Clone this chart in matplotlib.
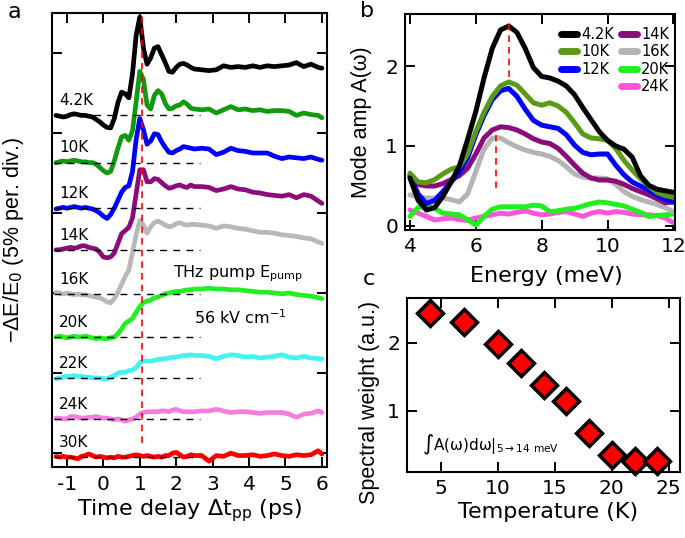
import numpy as np
import matplotlib
matplotlib.use('Agg')
import matplotlib.pyplot as plt
from matplotlib.lines import Line2D

plt.rcParams['font.family'] = ['DejaVu Sans']
plt.rcParams['mathtext.fontset'] = 'dejavusans'

# ---------------- Panel a data ----------------
t_delay = [-1.3, -1.2, -1.1, -1.0, -0.9, -0.8, -0.7, -0.6, -0.5, -0.4,
           -0.3, -0.2, -0.1, 0.0, 0.1, 0.2, 0.3, 0.4, 0.5, 0.6,
           0.7, 0.8, 0.9, 1.0, 1.1, 1.2, 1.3, 1.4, 1.5, 1.6,
           1.7, 1.8, 1.9, 2.0, 2.1, 2.2, 2.3, 2.4, 2.5,
           2.7, 2.9, 3.1, 3.3, 3.5, 3.7, 3.9, 4.1, 4.3, 4.5,
           4.7, 4.9, 5.1, 5.3, 5.5, 5.7, 5.9, 6.0]

sig_4K2 = [0.0, -0.05, -0.1, -0.05, 0.05, 0.1, 0.05, 0.0, 0.0, -0.05,
           -0.1, -0.25, -0.4, -0.6, -0.75, -0.78, -0.2, 0.8, 1.45, 1.35,
           1.1, 2.6, 5.0, 6.15, 4.2, 3.2, 3.6, 4.2, 4.3, 3.8,
           3.3, 2.75, 2.7, 3.0, 3.2, 3.25, 3.15, 3.0, 2.9,
           2.85, 2.8, 2.85, 3.1, 3.0, 3.05, 3.0, 3.1, 3.0, 3.1,
           3.05, 3.1, 3.15, 3.3, 3.05, 3.2, 3.0, 2.95]
sig_10K = [0.0, 0.05, 0.1, 0.05, 0.1, 0.15, 0.1, 0.05, 0.05, 0.0,
           0.0, -0.1, -0.3, -0.5, -0.65, -0.55, 0.1, 0.9, 1.6, 1.7,
           1.4, 2.0, 3.8, 5.7, 5.2, 3.6, 3.35, 4.2, 4.5, 4.3,
           3.7, 3.35, 3.4, 3.55, 3.6, 3.8, 3.65, 3.4, 3.35,
           3.3, 3.35, 3.1, 3.3, 3.5, 3.3, 3.35, 3.25, 3.3, 3.2,
           3.25, 3.25, 3.2, 2.95, 3.1, 3.0, 2.95, 2.8]
sig_12K = [-0.05, 0.0, 0.05, 0.0, 0.05, 0.1, 0.05, 0.0, 0.05, 0.0,
           -0.05, -0.15, -0.3, -0.5, -0.64, -0.4, 0.0, 0.5, 1.0, 1.3,
           1.4, 2.3, 4.3, 5.6, 4.9, 4.0, 4.2, 4.65, 4.6, 4.15,
           3.8, 3.5, 3.45, 3.6, 3.7, 3.85, 3.8, 3.75, 3.7,
           3.75, 3.7, 3.35, 3.5, 3.75, 3.6, 3.55, 3.45, 3.45, 3.45,
           3.25, 3.1, 3.2, 3.15, 3.1, 3.2, 3.05, 3.0]
sig_14K = [0.0, 0.0, 0.05, 0.1, 0.15, 0.1, 0.15, 0.25, 0.25, 0.15,
           0.1, 0.05, -0.15, -0.45, -0.5, -0.45, -0.2, 0.4, 1.0, 1.2,
           1.4, 2.0, 3.5, 5.0, 5.0, 4.25, 4.25, 4.45, 4.4, 4.2,
           4.0, 3.85, 3.9, 4.0, 4.05, 3.95, 3.9, 4.05, 3.95,
           3.95, 3.9, 3.7, 3.8, 3.95, 3.8, 3.75, 3.6, 3.55, 3.45,
           3.4, 3.35, 3.45, 3.25, 3.45, 3.35, 3.05, 2.9]
sig_16K = [0.1, 0.05, 0.0, 0.05, 0.0, -0.05, 0.0, -0.05, -0.05, -0.1,
           -0.15, -0.2, -0.25, -0.35, -0.5, -0.55, -0.3, 0.1, 0.6, 1.1,
           1.5, 2.6, 3.7, 4.6, 4.3, 3.8, 4.2, 4.45, 4.55, 4.45,
           4.3, 4.2, 4.25, 4.4, 4.45, 4.35, 4.3, 4.35, 4.35,
           4.3, 4.25, 4.1, 4.25, 4.2, 4.1, 4.05, 3.95, 3.85, 3.85,
           3.8, 3.7, 3.65, 3.6, 3.5, 3.45, 3.25, 3.15]
sig_20K = [0.0, 0.05, 0.0, -0.05, 0.0, 0.05, 0.0, 0.0, 0.05, 0.0,
           -0.05, -0.1, -0.05, -0.1, -0.1, -0.05, 0.0, 0.2, 0.5, 0.85,
           1.0, 1.15, 1.55, 1.9, 2.15, 2.25, 2.3, 2.45, 2.5, 2.6,
           2.7, 2.75, 2.8, 2.85, 2.85, 2.9, 2.95, 2.95, 3.0,
           3.0, 3.05, 3.0, 3.0, 2.95, 2.95, 2.9, 2.85, 2.8, 2.8,
           2.75, 2.7, 2.75, 2.65, 2.6, 2.55, 2.45, 2.4]
sig_22K = [-0.05, 0.0, 0.05, 0.1, 0.1, 0.15, 0.1, 0.1, 0.05, 0.05,
           0.0, 0.0, 0.0, -0.05, -0.05, 0.05, 0.15, 0.3, 0.35, 0.35,
           0.45, 0.5, 0.65, 0.95, 1.05, 1.05, 1.05, 1.1, 1.15, 1.2,
           1.2, 1.25, 1.3, 1.3, 1.35, 1.4, 1.4, 1.45, 1.4,
           1.4, 1.35, 1.2, 1.35, 1.45, 1.4, 1.3, 1.35, 1.25, 1.3,
           1.35, 1.45, 1.3, 1.25, 1.35, 1.25, 1.2, 1.2]
sig_24K = [0.05, 0.05, 0.0, 0.0, 0.15, 0.15, 0.1, 0.05, 0.05, 0.1,
           0.1, 0.15, 0.1, 0.05, 0.05, 0.0, -0.05, 0.0, -0.05, -0.15,
           -0.05, 0.0, 0.1, 0.3, 0.4, 0.45, 0.45, 0.45, 0.45, 0.5,
           0.5, 0.45, 0.55, 0.6, 0.5, 0.45, 0.45, 0.45, 0.45,
           0.5, 0.5, 0.6, 0.5, 0.4, 0.45, 0.45, 0.4, 0.35, 0.4,
           0.4, 0.4, 0.3, 0.1, 0.3, 0.35, 0.5, 0.4]
sig_30K = [0.05, 0.0, 0.05, 0.0, 0.0, -0.05, -0.1, 0.05, 0.1, 0.2,
           0.1, 0.0, 0.05, 0.0, -0.05, 0.0, -0.05, 0.05, 0.0, 0.0,
           0.05, 0.1, 0.15, 0.1, 0.05, 0.1, 0.05, 0.0, 0.05, 0.0,
           0.1, 0.1, 0.25, 0.3, 0.15, 0.0, 0.05, 0.15, 0.1,
           0.1, -0.25, 0.1, 0.05, 0.25, 0.1, 0.1, 0.15, 0.05, 0.1,
           0.2, 0.1, 0.05, 0.15, 0.1, 0.15, 0.4, 0.2]

temps_a = ['4.2K', '10K', '12K', '14K', '16K', '20K', '22K', '24K', '30K']
offsets_a = [21.1, 18.15, 15.3, 12.7, 9.94, 7.25, 4.69, 2.13, -0.26]
colors_a = ['#000000', '#119a11', '#0000ff', '#8c0c7c', '#b8b8b8',
            '#22ee22', '#44f2f2', '#f27fe0', '#ff0000']
signals_a = [sig_4K2, sig_10K, sig_12K, sig_14K, sig_16K, sig_20K,
             sig_22K, sig_24K, sig_30K]

# ---------------- Panel b data ----------------
energy = np.linspace(4.0, 12.0, 33)
amp_4K2 = [0.60, 0.32, 0.20, 0.23, 0.37, 0.55, 0.75, 1.08, 1.43, 1.85, 2.22,
           2.45, 2.50, 2.42, 2.22, 1.98, 1.87, 1.85, 1.81, 1.75, 1.64, 1.48,
           1.33, 1.18, 1.07, 1.00, 0.96, 0.86, 0.63, 0.51, 0.46, 0.44, 0.42]
amp_10K = [0.66, 0.55, 0.54, 0.58, 0.65, 0.71, 0.74, 0.90, 1.18, 1.42, 1.62,
           1.75, 1.80, 1.76, 1.65, 1.54, 1.51, 1.54, 1.50, 1.42, 1.29, 1.15,
           1.10, 1.09, 1.07, 0.97, 0.82, 0.70, 0.59, 0.50, 0.42, 0.38, 0.36]
amp_12K = [0.62, 0.40, 0.28, 0.32, 0.43, 0.55, 0.67, 0.85, 1.14, 1.38, 1.58,
           1.69, 1.72, 1.62, 1.46, 1.32, 1.26, 1.24, 1.22, 1.14, 1.01, 0.92,
           0.89, 0.90, 0.90, 0.76, 0.64, 0.55, 0.50, 0.45, 0.38, 0.33, 0.30]
amp_14K = [0.64, 0.52, 0.50, 0.50, 0.53, 0.58, 0.63, 0.72, 0.90, 1.10, 1.20,
           1.24, 1.23, 1.20, 1.15, 1.09, 1.05, 1.03, 0.97, 0.87, 0.76, 0.66,
           0.60, 0.575, 0.575, 0.56, 0.52, 0.47, 0.43, 0.39, 0.34, 0.29, 0.30]
amp_16K = [0.39, 0.36, 0.35, 0.35, 0.35, 0.33, 0.30, 0.40, 0.68, 0.96, 1.10,
           1.10, 1.04, 0.99, 0.95, 0.92, 0.90, 0.87, 0.82, 0.74, 0.65, 0.61,
           0.60, 0.60, 0.59, 0.52, 0.43, 0.37, 0.33, 0.30, 0.27, 0.23, 0.18]
amp_20K = [0.12, 0.23, 0.25, 0.22, 0.16, 0.15, 0.14, 0.08, 0.01, 0.12, 0.21,
           0.24, 0.24, 0.24, 0.24, 0.26, 0.25, 0.18, 0.19, 0.21, 0.22, 0.25,
           0.28, 0.30, 0.29, 0.27, 0.25, 0.21, 0.17, 0.12, 0.13, 0.14, 0.15]
amp_24K = [0.20, 0.16, 0.12, 0.075, 0.09, 0.10, 0.08, 0.07, 0.10, 0.12, 0.14,
           0.16, 0.15, 0.17, 0.19, 0.16, 0.14, 0.15, 0.17, 0.18, 0.15, 0.12,
           0.16, 0.18, 0.16, 0.18, 0.17, 0.15, 0.14, 0.14, 0.13, 0.10, 0.04]
temps_b = ['4.2K', '10K', '12K', '14K', '16K', '20K', '24K']
colors_b = ['#000000', '#5a9a14', '#0000ff', '#8c0c7c', '#b4b4b4',
            '#22ee22', '#ff55dd']
amps_b = [amp_4K2, amp_10K, amp_12K, amp_14K, amp_16K, amp_20K, amp_24K]

# ---------------- Panel c data ----------------
temp_c = [4, 7, 10, 12, 14, 16, 18, 20, 22, 24]
weight_c = [2.44, 2.30, 1.985, 1.70, 1.38, 1.15, 0.68, 0.35, 0.26, 0.26]

# ---------------- Figure ----------------
fig = plt.figure(figsize=(6.85, 5.38), dpi=100)
W, H = 685.0, 538.0
def axes_px(l, t, r, b):
    return fig.add_axes([l / W, 1 - b / H, (r - l) / W, (b - t) / H])

axa = axes_px(52, 13, 327, 467)
axb = axes_px(405, 14, 675, 230)
axc = axes_px(407, 298, 680, 472)

YFONT = dict(family='Liberation Sans', fontsize=15.5)

for ax in (axa, axb, axc):
    for sp in ax.spines.values():
        sp.set_linewidth(1.5)
    ax.tick_params(direction='in', top=True, right=True, length=7, width=1.4,
                   labelsize=14.5)

# panel a
for sig, off, col in zip(signals_a, offsets_a, colors_a):
    axa.plot(t_delay, np.array(sig) + off, color=col, lw=3.4,
             solid_capstyle='round', solid_joinstyle='round', zorder=2)
for lab, off in zip(temps_a, offsets_a):
    axa.plot([-1.35, 2.65], [off, off], color='black', lw=1.0,
             dashes=(5, 4.5), zorder=3)
    axa.text(-1.22, off + 0.45, lab, fontsize=11, ha='left', va='bottom',
             zorder=4)
axa.plot([1.05, 1.05], [0.6, 27.5], color='red', lw=1.2, dashes=(4, 3),
         zorder=5)
axa.text(1.92, 11.2, r'THz pump E$_{\mathrm{pump}}$', fontsize=11.5,
         ha='left', va='center')
axa.text(2.5, 8.45, r'56 kV cm$^{\mathrm{-1}}$', fontsize=11.5, ha='left',
         va='center')
axa.set_xlim(-1.41, 6.14)
axa.set_ylim(-0.875, 27.5)
axa.set_xticks([-1, 0, 1, 2, 3, 4, 5, 6])
axa.set_xticklabels(['-1', '0', '1', '2', '3', '4', '5', '6'])
axa.set_yticks([0, 5, 10, 15, 20, 25])
axa.set_yticklabels([])
axa.tick_params(axis='x', pad=6)
axa.set_xlabel(r'Time delay $\Delta$t$_{\mathrm{pp}}$ (ps)', fontsize=16,
               labelpad=2)
axa.set_ylabel('\u2212\u0394E/E$_{\\mathrm{0}}$ (5% per. div.)', **YFONT)
axa.yaxis.set_label_coords(-0.094, 0.5)

# panel b
for lab, col, amp in reversed(list(zip(temps_b, colors_b, amps_b))):
    axb.plot(energy, amp, color=col, lw=3.6, label=lab,
             solid_capstyle='round', solid_joinstyle='round')
axb.plot([7.0, 7.0], [1.86, 2.54], color='red', lw=1.2, dashes=(4, 3))
axb.plot([6.6, 6.6], [0.47, 1.14], color='red', lw=1.2, dashes=(4, 3))
axb.set_xlim(3.85, 12.05)
axb.set_ylim(-0.05, 2.65)
axb.set_xticks([4, 6, 8, 10, 12])
axb.set_yticks([0, 1, 2])
axb.tick_params(axis='x', pad=5)
axb.tick_params(axis='y', pad=5)
axb.set_xlabel('Energy (meV)', fontsize=16)
axb.xaxis.set_label_coords(0.525, -0.165)
axb.set_ylabel('Mode amp A(\u03c9)', **YFONT)
axb.yaxis.set_label_coords(-0.122, 0.5)

handles = {l.get_label(): l for l in axb.get_lines() if l.get_label() in temps_b}
blank = Line2D([], [], color='none', label=' ')
order = [handles['4.2K'], handles['10K'], handles['12K'], blank,
         handles['14K'], handles['16K'], handles['20K'], handles['24K']]
leg = axb.legend(handles=order, labels=[h.get_label() for h in order],
                 ncol=2, loc='upper left', bbox_to_anchor=(0.578, 0.94),
                 frameon=False, fontsize=10.5, handlelength=1.1,
                 handletextpad=0.3, columnspacing=0.45, labelspacing=0.16,
                 borderaxespad=0.0, borderpad=0.0)
for h in leg.get_lines():
    h.set_linewidth(5)

# panel c
axc.plot(temp_c, weight_c, linestyle='none', marker='D', markersize=13.5,
         markerfacecolor='red', markeredgecolor='black', markeredgewidth=2.5,
         clip_on=False)
axc.set_xlim(2, 26)
axc.set_ylim(0.1, 2.66)
axc.set_xticks([5, 10, 15, 20, 25])
axc.set_yticks([1, 2])
axc.tick_params(axis='x', pad=5)
axc.tick_params(axis='y', pad=5)
axc.set_xlabel('Temperature (K)', fontsize=16)
axc.xaxis.set_label_coords(0.515, -0.17)
axc.set_ylabel('Spectral weight (a.u.)', **YFONT)
axc.yaxis.set_label_coords(-0.099, 0.397)
axc.text(3.3, 0.5, r'∫A(ω)dω|$_{\mathrm{5\rightarrow14\ meV}}$', fontsize=11,
         ha='left', va='center')

fig.text(8 / W, 1 - 18 / H, 'a', fontsize=16, va='baseline', ha='left')
fig.text(360 / W, 1 - 17 / H, 'b', fontsize=16, va='baseline', ha='left')
fig.text(363 / W, 1 - 285 / H, 'c', fontsize=16, va='baseline', ha='left')

fig.savefig('out.png', dpi=100)
